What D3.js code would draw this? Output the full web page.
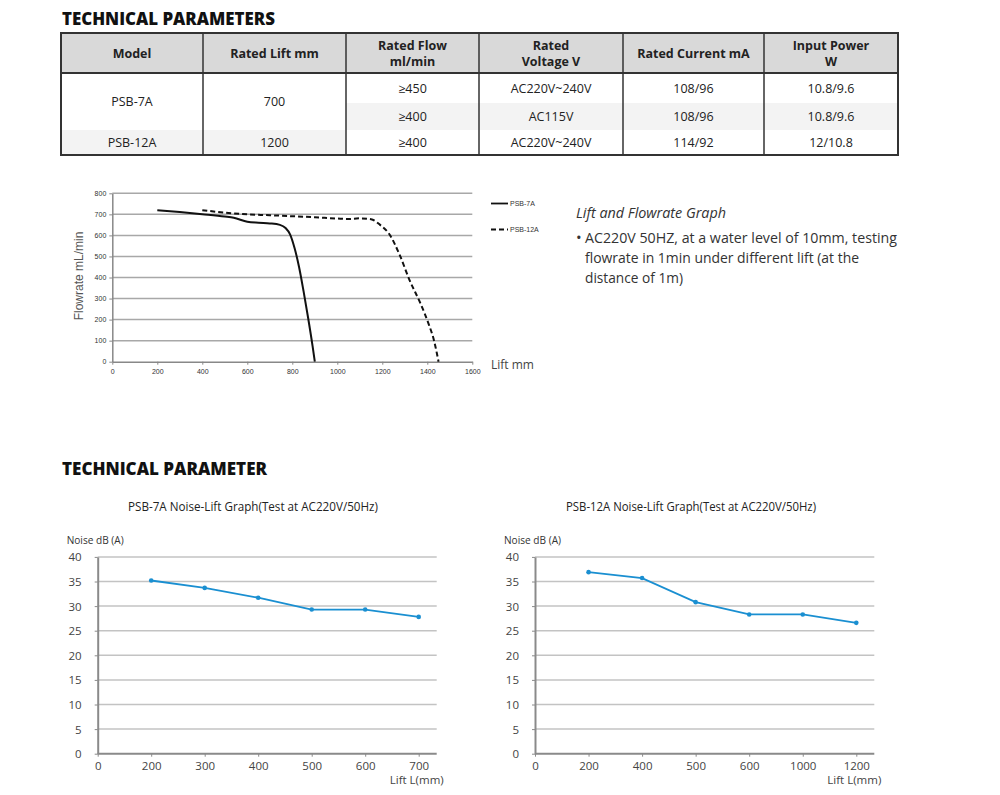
<!DOCTYPE html>
<html>
<head>
<meta charset="utf-8">
<script src="https://cdn.jsdelivr.net/npm/d3@7"></script>
<style>
  body { margin: 0; background: #fff; }
  text { font-family: "Open Sans", "DejaVu Sans", sans-serif; }
</style>
</head>
<body>
<div id="chart"></div>
<script>
// ---- table data
var tableHeaders = ["Model", "Rated Lift mm", "Rated Flow|ml/min", "Rated|Voltage V", "Rated Current mA", "Input Power|W"];
var models = ["PSB-7A", "PSB-12A"];
var ratedLifts = ["700", "1200"];
var ratedFlows = ["≥450", "≥400", "≥400"];
var ratedVoltages = ["AC220V~240V", "AC115V", "AC220V~240V"];
var ratedCurrents = ["108/96", "108/96", "114/92"];
var inputPowers = ["10.8/9.6", "10.8/9.6", "12/10.8"];

// ---- lift / flowrate curves
var lift7A = [200, 300, 400, 500, 540, 600, 650, 700, 745, 770, 790, 810, 830, 850, 870, 890, 900];
var flow7A = [720, 711, 701, 690, 684, 665, 660, 657, 650, 635, 605, 540, 450, 335, 210, 75, 0];
var lift12A = [400, 500, 600, 700, 800, 900, 1000, 1050, 1100, 1150, 1190, 1230, 1280, 1320, 1370, 1405, 1430, 1450];
var flow12A = [720, 708, 700, 696, 691, 686, 680, 678, 681, 677, 650, 608, 500, 390, 276, 182, 100, 0];
var flowTicksX = [0, 200, 400, 600, 800, 1000, 1200, 1400, 1600];
var flowTicksY = [0, 100, 200, 300, 400, 500, 600, 700, 800];

// ---- noise / lift
var lifts7A = ["0", "200", "300", "400", "500", "600", "700"];
var noise7A = [null, 35.2, 33.7, 31.7, 29.3, 29.3, 27.8];
var lifts12A = ["0", "200", "400", "500", "600", "1000", "1200"];
var noise12A = [null, 36.9, 35.7, 30.8, 28.3, 28.3, 26.6];
var noiseTicks = [0, 5, 10, 15, 20, 25, 30, 35, 40];

var svg = d3.select("#chart").append("svg")
    .attr("width", 1000)
    .attr("height", 795);

function fit(sel, w) {
  sel.attr("textLength", w).attr("lengthAdjust", "spacingAndGlyphs");
  return sel;
}

// ---- headings
fit(svg.append("text")
    .attr("x", 62).attr("y", 25)
    .style("font-size", "18px").style("font-weight", "800").style("fill", "#111")
    .text("TECHNICAL PARAMETERS"), 213);

fit(svg.append("text")
    .attr("x", 62).attr("y", 475)
    .style("font-size", "18px").style("font-weight", "800").style("fill", "#111")
    .text("TECHNICAL PARAMETER"), 205);

// ---- table
var colX = [61, 203, 346, 479, 623, 764, 898];
var rowY = [73, 103, 130, 155];
var table = svg.append("g");

table.append("rect")
    .attr("x", colX[0]).attr("y", 33)
    .attr("width", colX[6] - colX[0]).attr("height", rowY[0] - 33)
    .attr("fill", "#d9d9d9");
// gray sub-rows
table.append("rect")
    .attr("x", colX[2]).attr("y", rowY[1])
    .attr("width", colX[6] - colX[2]).attr("height", rowY[2] - rowY[1])
    .attr("fill", "#f3f3f3");
table.append("rect")
    .attr("x", colX[0]).attr("y", rowY[2])
    .attr("width", colX[2] - colX[0]).attr("height", rowY[3] - rowY[2])
    .attr("fill", "#f3f3f3");

tableHeaders.forEach(function(h, i) {
  var lines = h.split("|");
  var cx = (colX[i] + colX[i + 1]) / 2;
  var t = table.append("text")
      .attr("text-anchor", "middle")
      .style("font-size", "12.5px").style("font-weight", "700").style("fill", "#222");
  lines.forEach(function(l, j) {
    t.append("tspan")
        .attr("x", cx)
        .attr("y", lines.length == 1 ? 58 : 50 + j * 16)
        .text(l);
  });
});

function cell(txt, col, y) {
  table.append("text")
      .attr("x", (colX[col] + colX[col + 1]) / 2)
      .attr("y", y)
      .attr("text-anchor", "middle")
      .style("font-size", "12.5px").style("fill", "#222")
      .text(txt);
}
cell(models[0], 0, 106);
cell(ratedLifts[0], 1, 106);
cell(models[1], 0, 147);
cell(ratedLifts[1], 1, 147);
[ratedFlows, ratedVoltages, ratedCurrents, inputPowers].forEach(function(arr, k) {
  arr.forEach(function(v, r) {
    cell(v, k + 2, [93, 121, 147][r]);
  });
});

table.append("rect")
    .attr("x", colX[0]).attr("y", 33)
    .attr("width", colX[6] - colX[0]).attr("height", rowY[3] - 33)
    .attr("fill", "none").attr("stroke", "#333").attr("stroke-width", 2);
table.append("line")
    .attr("x1", colX[0]).attr("x2", colX[6]).attr("y1", rowY[0]).attr("y2", rowY[0])
    .attr("stroke", "#333").attr("stroke-width", 2);
colX.slice(1, 6).forEach(function(x) {
  table.append("line")
      .attr("x1", x).attr("x2", x).attr("y1", 33).attr("y2", rowY[3])
      .attr("stroke", "#333").attr("stroke-width", 1.5);
});

// ---- lift & flowrate graph
var fx = d3.scaleLinear().domain([0, 1600]).range([112.3, 472.3]);
var fy = d3.scaleLinear().domain([0, 800]).range([361.7, 193.3]);
var flowG = svg.append("g");

flowG.selectAll(".grid")
  .data(flowTicksY.slice(1))
  .enter().append("line")
    .attr("x1", fx(0)).attr("x2", fx(1600))
    .attr("y1", function(d) { return fy(d); })
    .attr("y2", function(d) { return fy(d); })
    .attr("stroke", "#a8a8a8").attr("stroke-width", 1.5);

var yAx = flowG.append("g")
    .attr("transform", "translate(" + fx(0) + ",0)")
    .call(d3.axisLeft(fy).tickValues(flowTicksY).tickFormat(d3.format("d")).tickSize(3).tickSizeOuter(0));
var xAx = flowG.append("g")
    .attr("transform", "translate(0," + fy(0) + ")")
    .call(d3.axisBottom(fx).tickValues(flowTicksX).tickFormat(d3.format("d")).tickSize(3).tickSizeOuter(0));
[yAx, xAx].forEach(function(a) {
  a.select(".domain").attr("stroke", "#888").attr("stroke-width", 1.5);
  a.selectAll(".tick line").attr("stroke", "#888");
  a.selectAll(".tick text")
      .style("font-family", "'Liberation Sans Narrow', 'Liberation Sans', sans-serif")
      .style("font-size", "7px").style("fill", "#333");
});
yAx.selectAll(".tick text").attr("x", -6);
xAx.selectAll(".tick text").attr("y", 7);

var flowLine = d3.line()
    .x(function(d) { return fx(d[0]); })
    .y(function(d) { return fy(d[1]); })
    .curve(d3.curveMonotoneX);

flowG.append("path")
    .datum(d3.zip(lift7A, flow7A))
    .attr("d", flowLine)
    .attr("fill", "none").attr("stroke", "#111").attr("stroke-width", 2);
flowG.append("path")
    .datum(d3.zip(lift12A, flow12A))
    .attr("d", flowLine)
    .attr("fill", "none").attr("stroke", "#111").attr("stroke-width", 2)
    .attr("stroke-dasharray", "5,3");

flowG.append("text")
    .attr("transform", "translate(83,276) rotate(-90)")
    .attr("text-anchor", "middle")
    .style("font-family", "'Liberation Sans', Arial, sans-serif")
    .style("font-size", "12px").style("fill", "#555")
    .text("Flowrate mL/min");

flowG.append("text")
    .attr("x", 491).attr("y", 369)
    .style("font-size", "12px").style("fill", "#444")
    .text("Lift mm");

// legend
[["PSB-7A", null, 203.5], ["PSB-12A", "5,3", 229.5]].forEach(function(l) {
  flowG.append("line")
      .attr("x1", 491).attr("x2", 508).attr("y1", l[2]).attr("y2", l[2])
      .attr("stroke", "#111").attr("stroke-width", 1.8)
      .attr("stroke-dasharray", l[1]);
  flowG.append("text")
      .attr("x", 510).attr("y", l[2] + 2.5)
      .style("font-family", "'Liberation Sans Narrow', 'Liberation Sans', sans-serif")
      .style("font-size", "7px").style("fill", "#333")
      .text(l[0]);
});

// notes
fit(svg.append("text")
    .attr("x", 576).attr("y", 218)
    .style("font-size", "15px").style("font-style", "italic").style("fill", "#333")
    .text("Lift and Flowrate Graph"), 150);
svg.append("text")
    .attr("x", 576).attr("y", 243)
    .style("font-size", "15px").style("fill", "#333")
    .text("•");
fit(svg.append("text")
    .attr("x", 585).attr("y", 243)
    .style("font-size", "15px").style("fill", "#333")
    .text("AC220V 50HZ, at a water level of 10mm, testing"), 312);
fit(svg.append("text")
    .attr("x", 585).attr("y", 263)
    .style("font-size", "15px").style("fill", "#333")
    .text("flowrate in 1min under different lift (at the"), 274);
fit(svg.append("text")
    .attr("x", 585).attr("y", 283)
    .style("font-size", "15px").style("fill", "#333")
    .text("distance of 1m)"), 98);

// ---- noise-lift graphs
function noiseChart(opts) {
  var g = svg.append("g");
  var x = d3.scalePoint().domain(opts.lifts).range([opts.x0, opts.x1]);
  var y = d3.scaleLinear().domain([0, 40]).range([753.7, 556.9]);

  g.append("text")
      .attr("x", opts.titleX).attr("y", 511)
      .attr("text-anchor", "middle")
      .style("font-size", "12.5px").style("fill", "#222")
      .call(fit, 250)
      .text(opts.title);

  g.append("text")
      .attr("x", opts.x0 - 31).attr("y", 544)
      .style("font-size", "11px").style("fill", "#333")
      .call(fit, 57)
      .text("Noise dB (A)");

  g.selectAll(".grid")
    .data(noiseTicks.slice(1))
    .enter().append("line")
      .attr("x1", opts.x0).attr("x2", opts.gridEnd)
      .attr("y1", function(d) { return y(d); })
      .attr("y2", function(d) { return y(d); })
      .attr("stroke", "#c3c3c3").attr("stroke-width", 1.5);

  var ya = g.append("g")
      .attr("transform", "translate(" + opts.x0 + ",0)")
      .call(d3.axisLeft(y).tickValues(noiseTicks).tickSize(3).tickSizeOuter(0));
  var xa = g.append("g")
      .attr("transform", "translate(0," + y(0) + ")")
      .call(d3.axisBottom(x).tickSize(3).tickSizeOuter(0));
  xa.select(".domain").attr("d", "M" + opts.x0 + ",0H" + opts.gridEnd);
  [ya, xa].forEach(function(a) {
    a.select(".domain").attr("stroke", "#8a8a8a").attr("stroke-width", 2);
    a.selectAll(".tick line").attr("stroke", "#8a8a8a");
    a.selectAll(".tick text")
        .style("font-family", "'Open Sans', sans-serif")
        .style("font-size", "11.5px").style("fill", "#444");
  });
  ya.selectAll(".tick text").attr("x", -16).attr("dy", "0.35em");
  xa.selectAll(".tick text").attr("y", 8);

  var pts = d3.zip(opts.lifts, opts.noise).filter(function(d) { return d[1] != null; });
  g.append("path")
      .datum(pts)
      .attr("d", d3.line()
          .x(function(d) { return x(d[0]); })
          .y(function(d) { return y(d[1]); }))
      .attr("fill", "none").attr("stroke", "#1a8fd1").attr("stroke-width", 1.8);
  g.selectAll(".pt")
    .data(pts)
    .enter().append("circle")
      .attr("cx", function(d) { return x(d[0]); })
      .attr("cy", function(d) { return y(d[1]); })
      .attr("r", 2.3)
      .attr("fill", "#1a8fd1");

  g.append("text")
      .attr("x", opts.gridEnd + 7).attr("y", 784)
      .attr("text-anchor", "end")
      .style("font-size", "11.5px").style("fill", "#444")
      .text("Lift L(mm)");
}

noiseChart({
  title: "PSB-7A Noise-Lift Graph(Test at AC220V/50Hz)",
  titleX: 253, lifts: lifts7A, noise: noise7A,
  x0: 97.7, x1: 418.7, gridEnd: 436.7
});
noiseChart({
  title: "PSB-12A Noise-Lift Graph(Test at AC220V/50Hz)",
  titleX: 691, lifts: lifts12A, noise: noise12A,
  x0: 535, x1: 856.3, gridEnd: 874.3
});
</script>
</body>
</html>
